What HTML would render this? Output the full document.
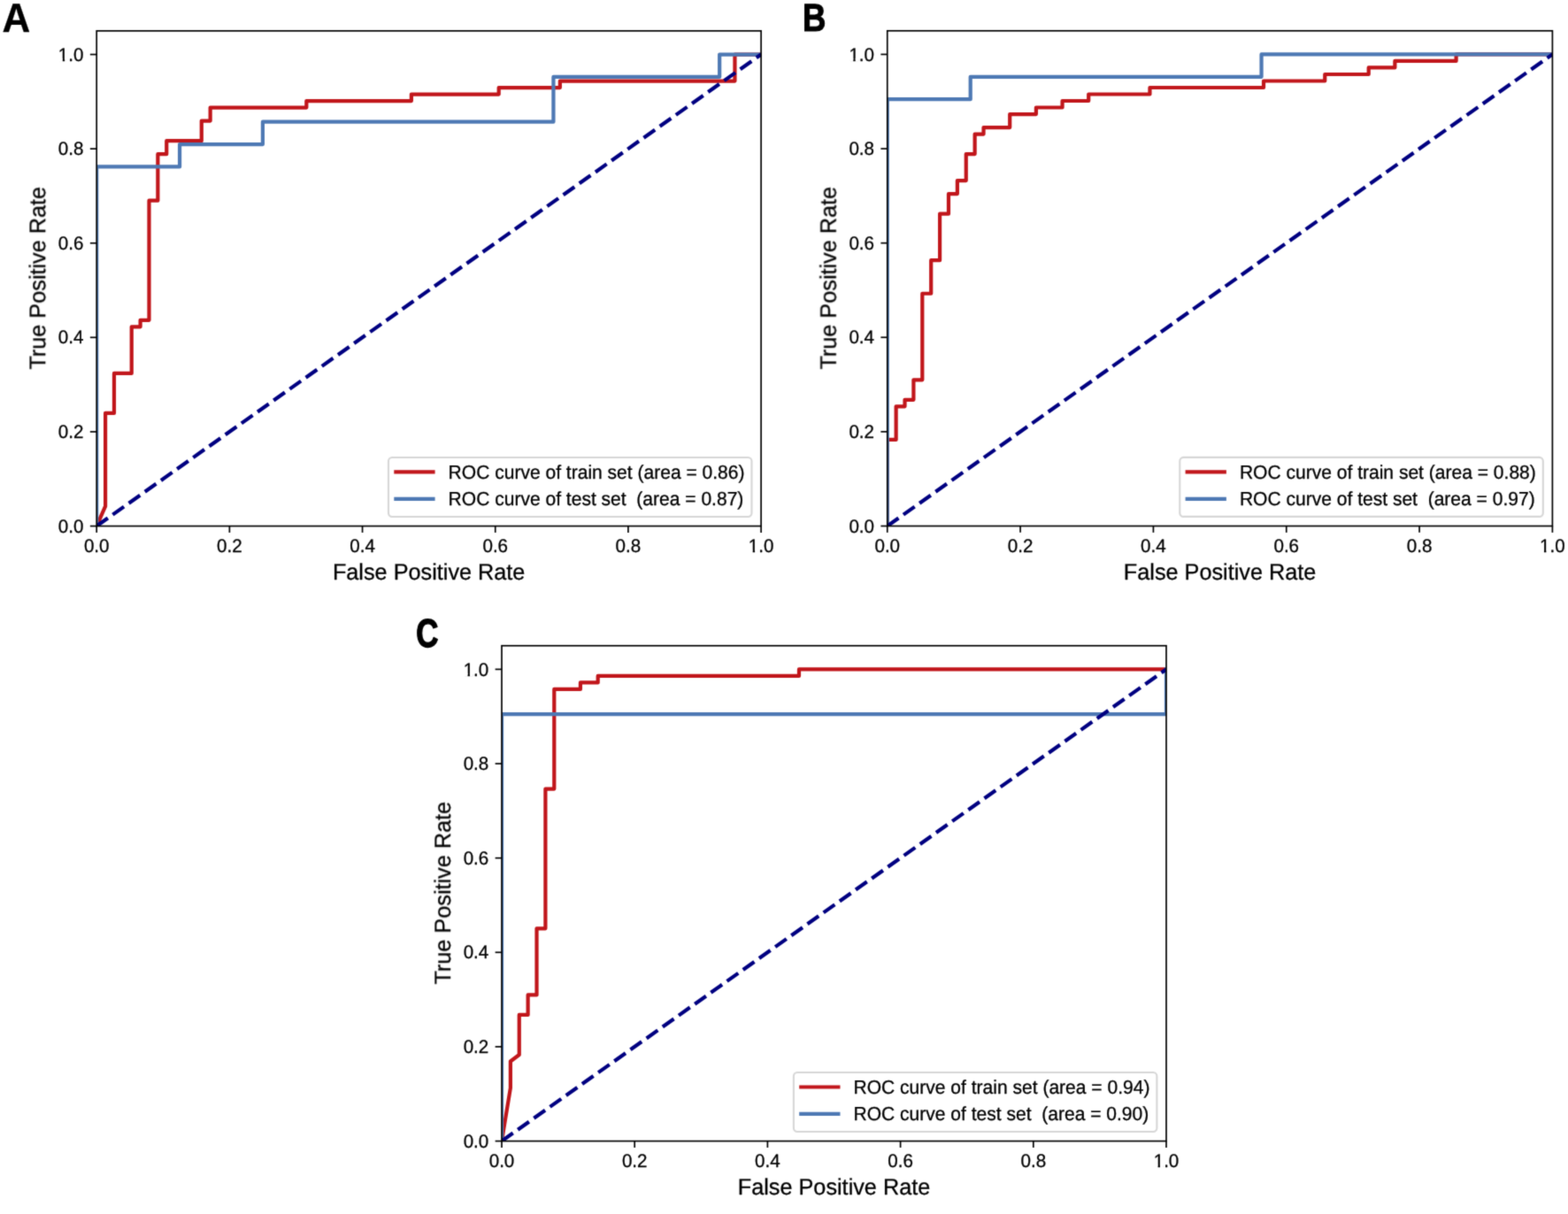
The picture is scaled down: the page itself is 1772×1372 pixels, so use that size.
<!DOCTYPE html>
<html lang="en">
<head>
<meta charset="utf-8">
<title>ROC curves of train and test sets</title>
<style>
html, body { margin: 0; padding: 0; background: #ffffff; }
body { width: 1772px; height: 1372px; overflow: hidden; }
svg { display: block; }
text { text-rendering: geometricPrecision; white-space: pre; }
</style>
</head>
<body>
<svg width="1772" height="1372" viewBox="0 0 1772 1372" role="img" aria-label="ROC curves of train and test sets, panels A, B and C">
<rect x="0" y="0" width="1772" height="1372" fill="#ffffff"/>
<defs><filter id="soft" x="0" y="0" width="1772" height="1372" filterUnits="userSpaceOnUse" color-interpolation-filters="sRGB"><feConvolveMatrix order="3" kernelMatrix="0.02085 0.10270 0.02085 0.10270 0.50581 0.10270 0.02085 0.10270 0.02085" divisor="1" edgeMode="duplicate" preserveAlpha="false"/></filter></defs>
<g id="fig" filter="url(#soft)">
<g id="panelA">
<clipPath id="clipA"><rect x="109.2" y="34.9" width="750.9" height="559.65"/></clipPath>
<g clip-path="url(#clipA)" fill="none" stroke-width="4.21" stroke-linejoin="round">
<polyline points="109.2,594.55 119.08,572.03 119.08,466.93 128.96,466.93 128.96,421.89 148.72,421.89 148.72,369.34 158.6,369.34 158.6,361.83 168.48,361.83 168.48,226.7 178.36,226.7 178.36,174.16 188.24,174.16 188.24,159.14 227.76,159.14 227.76,136.62 237.64,136.62 237.64,121.61 346.33,121.61 346.33,114.1 464.89,114.1 464.89,106.59 563.69,106.59 563.69,99.09 632.85,99.09 632.85,91.58 830.46,91.58 830.46,61.55 860.1,61.55" stroke="#c1161b" stroke-linecap="square"/>
<polyline points="109.2,594.55 109.2,188.45 203.06,188.45 203.06,163.07 296.93,163.07 296.93,137.69 625.44,137.69 625.44,86.93 813.17,86.93 813.17,61.55 860.1,61.55" stroke="#4e79b4" stroke-linecap="square"/>
<line x1="109.2" y1="594.55" x2="860.1" y2="61.55" stroke="#000080" stroke-dasharray="15.57 6.73"/>
</g>
<g stroke="#000" stroke-width="1.68" fill="none">
<line x1="109.2" y1="594.55" x2="109.2" y2="601.91"/>
<line x1="109.2" y1="594.55" x2="101.84" y2="594.55"/>
<line x1="259.38" y1="594.55" x2="259.38" y2="601.91"/>
<line x1="109.2" y1="487.95" x2="101.84" y2="487.95"/>
<line x1="409.56" y1="594.55" x2="409.56" y2="601.91"/>
<line x1="109.2" y1="381.35" x2="101.84" y2="381.35"/>
<line x1="559.74" y1="594.55" x2="559.74" y2="601.91"/>
<line x1="109.2" y1="274.75" x2="101.84" y2="274.75"/>
<line x1="709.92" y1="594.55" x2="709.92" y2="601.91"/>
<line x1="109.2" y1="168.15" x2="101.84" y2="168.15"/>
<line x1="860.1" y1="594.55" x2="860.1" y2="601.91"/>
<line x1="109.2" y1="61.55" x2="101.84" y2="61.55"/>
<rect x="109.2" y="34.9" width="750.9" height="559.65" stroke-linejoin="miter"/>
</g>
<g font-family="'Liberation Sans', sans-serif" font-size="20.6" fill="#000" stroke="#000" stroke-width="0.3" stroke-linejoin="round">
<text transform="translate(109.2,624.25) scale(1,1.02)" text-anchor="middle">0.0</text>
<text transform="translate(259.38,624.25) scale(1,1.02)" text-anchor="middle">0.2</text>
<text transform="translate(409.56,624.25) scale(1,1.02)" text-anchor="middle">0.4</text>
<text transform="translate(559.74,624.25) scale(1,1.02)" text-anchor="middle">0.6</text>
<text transform="translate(709.92,624.25) scale(1,1.02)" text-anchor="middle">0.8</text>
<text transform="translate(860.1,624.25) scale(1,1.02)" text-anchor="middle">1.0</text>
<text transform="translate(94.5,601.65) scale(1,1.02)" text-anchor="end">0.0</text>
<text transform="translate(94.5,495.05) scale(1,1.02)" text-anchor="end">0.2</text>
<text transform="translate(94.5,388.45) scale(1,1.02)" text-anchor="end">0.4</text>
<text transform="translate(94.5,281.85) scale(1,1.02)" text-anchor="end">0.6</text>
<text transform="translate(94.5,175.25) scale(1,1.02)" text-anchor="end">0.8</text>
<text transform="translate(94.5,68.65) scale(1,1.02)" text-anchor="end">1.0</text>
</g>
<rect x="846.65" y="621.68" width="4.01" height="3.87" fill="#ffffff"/><rect x="853.08" y="621.68" width="3.85" height="3.87" fill="#ffffff"/>
<rect x="66.73" y="66.08" width="4.01" height="3.87" fill="#ffffff"/><rect x="73.16" y="66.08" width="3.85" height="3.87" fill="#ffffff"/>
<g font-family="'Liberation Sans', sans-serif" font-size="25.25" fill="#000" stroke="#000" stroke-width="0.3" stroke-linejoin="round" text-anchor="middle">
<text transform="translate(484.65,654.65) scale(1,1.015)">False Positive Rate</text>
<text transform="translate(51.5,314.32) rotate(-90) scale(1,1.015)">True Positive Rate</text>
</g>
<rect x="439" y="516.95" width="410.5" height="67" rx="4.2" ry="4.2" fill="#ffffff" fill-opacity="0.8" stroke="#cccccc" stroke-opacity="0.8" stroke-width="2.1"/>
<line x1="447.4" y1="533.45" x2="489.48" y2="533.45" stroke="#c1161b" stroke-width="4.21" stroke-linecap="square"/>
<text transform="translate(506.62,540.8) scale(1,1.03)" font-family="'Liberation Sans', sans-serif" font-size="21.04" fill="#000" stroke="#000" stroke-width="0.3" stroke-linejoin="round" xml:space="preserve">ROC curve of train set (area = 0.86)</text>
<line x1="447.4" y1="563.85" x2="489.48" y2="563.85" stroke="#4e79b4" stroke-width="4.21" stroke-linecap="square"/>
<text transform="translate(506.62,571.2) scale(1,1.03)" font-family="'Liberation Sans', sans-serif" font-size="21.04" fill="#000" stroke="#000" stroke-width="0.3" stroke-linejoin="round" xml:space="preserve">ROC curve of test set  (area = 0.87)</text>
<text transform="translate(2.5,35.6) scale(0.955,1)" font-family="'Liberation Sans', sans-serif" font-weight="bold" font-size="46.0" fill="#000" stroke="#000" stroke-width="0.3" stroke-linejoin="round" vector-effect="non-scaling-stroke">A</text>
</g>
<g id="panelB">
<clipPath id="clipB"><rect x="1002.75" y="34.8" width="751.65" height="559.7"/></clipPath>
<g clip-path="url(#clipB)" fill="none" stroke-width="4.21" stroke-linejoin="round">
<polyline points="1002.75,594.5 1002.75,496.9 1012.64,496.9 1012.64,459.36 1022.53,459.36 1022.53,451.85 1032.42,451.85 1032.42,429.33 1042.31,429.33 1042.31,331.73 1052.2,331.73 1052.2,294.19 1062.09,294.19 1062.09,241.64 1071.98,241.64 1071.98,219.11 1081.87,219.11 1081.87,204.1 1091.76,204.1 1091.76,174.07 1101.65,174.07 1101.65,151.54 1111.54,151.54 1111.54,144.04 1141.21,144.04 1141.21,129.02 1170.88,129.02 1170.88,121.51 1200.55,121.51 1200.55,114.01 1230.22,114.01 1230.22,106.5 1299.45,106.5 1299.45,98.99 1428.03,98.99 1428.03,91.48 1497.26,91.48 1497.26,83.98 1546.71,83.98 1546.71,76.47 1576.38,76.47 1576.38,68.96 1645.61,68.96 1645.61,61.45 1754.4,61.45" stroke="#c1161b" stroke-linecap="square"/>
<polyline points="1002.75,594.5 1002.75,112.22 1096.71,112.22 1096.71,86.84 1425.55,86.84 1425.55,61.45 1754.4,61.45" stroke="#4e79b4" stroke-linecap="square"/>
<line x1="1002.75" y1="594.5" x2="1754.4" y2="61.45" stroke="#000080" stroke-dasharray="15.57 6.73"/>
</g>
<g stroke="#000" stroke-width="1.68" fill="none">
<line x1="1002.75" y1="594.5" x2="1002.75" y2="601.86"/>
<line x1="1002.75" y1="594.5" x2="995.39" y2="594.5"/>
<line x1="1153.08" y1="594.5" x2="1153.08" y2="601.86"/>
<line x1="1002.75" y1="487.89" x2="995.39" y2="487.89"/>
<line x1="1303.41" y1="594.5" x2="1303.41" y2="601.86"/>
<line x1="1002.75" y1="381.28" x2="995.39" y2="381.28"/>
<line x1="1453.74" y1="594.5" x2="1453.74" y2="601.86"/>
<line x1="1002.75" y1="274.67" x2="995.39" y2="274.67"/>
<line x1="1604.07" y1="594.5" x2="1604.07" y2="601.86"/>
<line x1="1002.75" y1="168.06" x2="995.39" y2="168.06"/>
<line x1="1754.4" y1="594.5" x2="1754.4" y2="601.86"/>
<line x1="1002.75" y1="61.45" x2="995.39" y2="61.45"/>
<rect x="1002.75" y="34.8" width="751.65" height="559.7" stroke-linejoin="miter"/>
</g>
<g font-family="'Liberation Sans', sans-serif" font-size="20.6" fill="#000" stroke="#000" stroke-width="0.3" stroke-linejoin="round">
<text transform="translate(1002.75,624.2) scale(1,1.02)" text-anchor="middle">0.0</text>
<text transform="translate(1153.08,624.2) scale(1,1.02)" text-anchor="middle">0.2</text>
<text transform="translate(1303.41,624.2) scale(1,1.02)" text-anchor="middle">0.4</text>
<text transform="translate(1453.74,624.2) scale(1,1.02)" text-anchor="middle">0.6</text>
<text transform="translate(1604.07,624.2) scale(1,1.02)" text-anchor="middle">0.8</text>
<text transform="translate(1754.4,624.2) scale(1,1.02)" text-anchor="middle">1.0</text>
<text transform="translate(988.05,601.6) scale(1,1.02)" text-anchor="end">0.0</text>
<text transform="translate(988.05,494.99) scale(1,1.02)" text-anchor="end">0.2</text>
<text transform="translate(988.05,388.38) scale(1,1.02)" text-anchor="end">0.4</text>
<text transform="translate(988.05,281.77) scale(1,1.02)" text-anchor="end">0.6</text>
<text transform="translate(988.05,175.16) scale(1,1.02)" text-anchor="end">0.8</text>
<text transform="translate(988.05,68.55) scale(1,1.02)" text-anchor="end">1.0</text>
</g>
<rect x="1740.95" y="621.63" width="4.01" height="3.87" fill="#ffffff"/><rect x="1747.38" y="621.63" width="3.85" height="3.87" fill="#ffffff"/>
<rect x="960.28" y="65.98" width="4.01" height="3.87" fill="#ffffff"/><rect x="966.71" y="65.98" width="3.85" height="3.87" fill="#ffffff"/>
<g font-family="'Liberation Sans', sans-serif" font-size="25.25" fill="#000" stroke="#000" stroke-width="0.3" stroke-linejoin="round" text-anchor="middle">
<text transform="translate(1378.58,654.6) scale(1,1.015)">False Positive Rate</text>
<text transform="translate(945.05,314.25) rotate(-90) scale(1,1.015)">True Positive Rate</text>
</g>
<rect x="1333.3" y="516.9" width="410.5" height="67" rx="4.2" ry="4.2" fill="#ffffff" fill-opacity="0.8" stroke="#cccccc" stroke-opacity="0.8" stroke-width="2.1"/>
<line x1="1341.7" y1="533.4" x2="1383.78" y2="533.4" stroke="#c1161b" stroke-width="4.21" stroke-linecap="square"/>
<text transform="translate(1400.92,540.75) scale(1,1.03)" font-family="'Liberation Sans', sans-serif" font-size="21.04" fill="#000" stroke="#000" stroke-width="0.3" stroke-linejoin="round" xml:space="preserve">ROC curve of train set (area = 0.88)</text>
<line x1="1341.7" y1="563.8" x2="1383.78" y2="563.8" stroke="#4e79b4" stroke-width="4.21" stroke-linecap="square"/>
<text transform="translate(1400.92,571.15) scale(1,1.03)" font-family="'Liberation Sans', sans-serif" font-size="21.04" fill="#000" stroke="#000" stroke-width="0.3" stroke-linejoin="round" xml:space="preserve">ROC curve of test set  (area = 0.97)</text>
<text transform="translate(906.9,35.35) scale(0.832,1)" font-family="'Liberation Sans', sans-serif" font-weight="bold" font-size="44.0" fill="#000" stroke="#000" stroke-width="1.1" stroke-linejoin="round" vector-effect="non-scaling-stroke">B</text>
</g>
<g id="panelC">
<clipPath id="clipC"><rect x="567" y="729.75" width="751" height="559.85"/></clipPath>
<g clip-path="url(#clipC)" fill="none" stroke-width="4.21" stroke-linejoin="round">
<polyline points="567,1289.6 576.88,1229.52 576.88,1199.48 586.76,1191.97 586.76,1146.92 596.64,1146.92 596.64,1124.39 606.53,1124.39 606.53,1049.29 616.41,1049.29 616.41,891.58 626.29,891.58 626.29,778.94 655.93,778.94 655.93,771.43 675.7,771.43 675.7,763.92 902.97,763.92 902.97,756.41 1318,756.41" stroke="#c1161b" stroke-linecap="square"/>
<polyline points="567,1289.6 567,807.19 1318,807.19 1318,756.41" stroke="#4e79b4" stroke-linecap="square"/>
<line x1="567" y1="1289.6" x2="1318" y2="756.41" stroke="#000080" stroke-dasharray="15.57 6.73"/>
</g>
<g stroke="#000" stroke-width="1.68" fill="none">
<line x1="567" y1="1289.6" x2="567" y2="1296.96"/>
<line x1="567" y1="1289.6" x2="559.64" y2="1289.6"/>
<line x1="717.2" y1="1289.6" x2="717.2" y2="1296.96"/>
<line x1="567" y1="1182.96" x2="559.64" y2="1182.96"/>
<line x1="867.4" y1="1289.6" x2="867.4" y2="1296.96"/>
<line x1="567" y1="1076.32" x2="559.64" y2="1076.32"/>
<line x1="1017.6" y1="1289.6" x2="1017.6" y2="1296.96"/>
<line x1="567" y1="969.69" x2="559.64" y2="969.69"/>
<line x1="1167.8" y1="1289.6" x2="1167.8" y2="1296.96"/>
<line x1="567" y1="863.05" x2="559.64" y2="863.05"/>
<line x1="1318" y1="1289.6" x2="1318" y2="1296.96"/>
<line x1="567" y1="756.41" x2="559.64" y2="756.41"/>
<rect x="567" y="729.75" width="751" height="559.85" stroke-linejoin="miter"/>
</g>
<g font-family="'Liberation Sans', sans-serif" font-size="20.6" fill="#000" stroke="#000" stroke-width="0.3" stroke-linejoin="round">
<text transform="translate(567,1319.3) scale(1,1.02)" text-anchor="middle">0.0</text>
<text transform="translate(717.2,1319.3) scale(1,1.02)" text-anchor="middle">0.2</text>
<text transform="translate(867.4,1319.3) scale(1,1.02)" text-anchor="middle">0.4</text>
<text transform="translate(1017.6,1319.3) scale(1,1.02)" text-anchor="middle">0.6</text>
<text transform="translate(1167.8,1319.3) scale(1,1.02)" text-anchor="middle">0.8</text>
<text transform="translate(1318,1319.3) scale(1,1.02)" text-anchor="middle">1.0</text>
<text transform="translate(552.3,1296.7) scale(1,1.02)" text-anchor="end">0.0</text>
<text transform="translate(552.3,1190.06) scale(1,1.02)" text-anchor="end">0.2</text>
<text transform="translate(552.3,1083.42) scale(1,1.02)" text-anchor="end">0.4</text>
<text transform="translate(552.3,976.79) scale(1,1.02)" text-anchor="end">0.6</text>
<text transform="translate(552.3,870.15) scale(1,1.02)" text-anchor="end">0.8</text>
<text transform="translate(552.3,763.51) scale(1,1.02)" text-anchor="end">1.0</text>
</g>
<rect x="1304.55" y="1316.73" width="4.01" height="3.87" fill="#ffffff"/><rect x="1310.98" y="1316.73" width="3.85" height="3.87" fill="#ffffff"/>
<rect x="524.53" y="760.94" width="4.01" height="3.87" fill="#ffffff"/><rect x="530.96" y="760.94" width="3.85" height="3.87" fill="#ffffff"/>
<g font-family="'Liberation Sans', sans-serif" font-size="25.25" fill="#000" stroke="#000" stroke-width="0.3" stroke-linejoin="round" text-anchor="middle">
<text transform="translate(942.5,1349.7) scale(1,1.015)">False Positive Rate</text>
<text transform="translate(509.3,1009.27) rotate(-90) scale(1,1.015)">True Positive Rate</text>
</g>
<rect x="896.9" y="1212" width="410.5" height="67" rx="4.2" ry="4.2" fill="#ffffff" fill-opacity="0.8" stroke="#cccccc" stroke-opacity="0.8" stroke-width="2.1"/>
<line x1="905.3" y1="1228.5" x2="947.38" y2="1228.5" stroke="#c1161b" stroke-width="4.21" stroke-linecap="square"/>
<text transform="translate(964.52,1235.85) scale(1,1.03)" font-family="'Liberation Sans', sans-serif" font-size="21.04" fill="#000" stroke="#000" stroke-width="0.3" stroke-linejoin="round" xml:space="preserve">ROC curve of train set (area = 0.94)</text>
<line x1="905.3" y1="1258.9" x2="947.38" y2="1258.9" stroke="#4e79b4" stroke-width="4.21" stroke-linecap="square"/>
<text transform="translate(964.52,1266.25) scale(1,1.03)" font-family="'Liberation Sans', sans-serif" font-size="21.04" fill="#000" stroke="#000" stroke-width="0.3" stroke-linejoin="round" xml:space="preserve">ROC curve of test set  (area = 0.90)</text>
<text transform="translate(470.3,730.6) scale(0.778,1)" font-family="'Liberation Sans', sans-serif" font-weight="bold" font-size="44.75" fill="#000" stroke="#000" stroke-width="1.4" stroke-linejoin="round" vector-effect="non-scaling-stroke">C</text>
</g>
</g>
</svg>
</body>
</html>
